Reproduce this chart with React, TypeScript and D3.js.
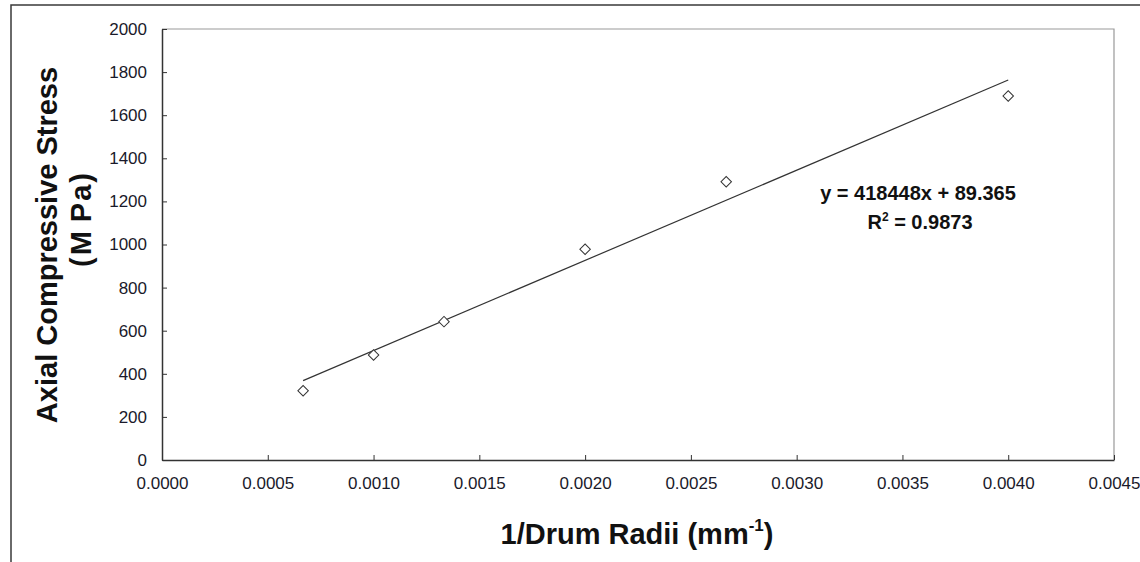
import React, { useRef, useEffect } from 'react';
import * as d3 from 'd3';

// data
const radiiInv = [0.000667, 0.001, 0.001333, 0.002, 0.002667, 0.004];
const stress = [321, 487, 642, 978, 1291, 1689];
const xTicks = [0, 0.0005, 0.001, 0.0015, 0.002, 0.0025, 0.003, 0.0035, 0.004, 0.0045];
const yTicks = [0, 200, 400, 600, 800, 1000, 1200, 1400, 1600, 1800, 2000];
const fitSlope = 418448;
const fitIntercept = 89.365;

export default function App() {
  const svgRef = useRef<SVGSVGElement | null>(null);

  useEffect(() => {
    const W = 1140;
    const H = 562;
    const margin = { top: 29, right: 26, bottom: 102, left: 162 };
    const width = W - margin.left - margin.right;
    const height = H - margin.top - margin.bottom;
    const font = 'Arial, "Liberation Sans", sans-serif';

    const root = d3.select(svgRef.current);
    root.selectAll('*').remove();
    root.attr('width', W).attr('height', H);

    root.append('rect').attr('width', W).attr('height', H).attr('fill', '#fff');

    // outer chart frame (only top and left edges visible)
    root.append('path')
      .attr('d', `M11,${H} L11,5 L${W},5`)
      .attr('fill', 'none')
      .attr('stroke', '#3a3a3a')
      .attr('stroke-width', 1.5);

    const svg = root.append('g').attr('transform', `translate(${margin.left},${margin.top})`);

    const x = d3.scaleLinear().domain([0, 0.0045]).range([0, width]);
    const y = d3.scaleLinear().domain([0, 2000]).range([height, 0]);

    // plot box top/right
    svg.append('path')
      .attr('d', `M0,0 H${width} V${height}`)
      .attr('fill', 'none')
      .attr('stroke', '#999')
      .attr('stroke-width', 1.2);

    // X axis
    const xAxis = svg.append('g')
      .attr('transform', `translate(0,${height})`)
      .call(d3.axisBottom(x).tickValues(xTicks).tickSizeInner(-5).tickSizeOuter(0).tickPadding(17).tickFormat(d3.format('.4f')));
    xAxis.select('.domain').attr('stroke', '#333').attr('stroke-width', 1.5);
    xAxis.selectAll('line').attr('stroke', '#333');
    xAxis.selectAll('text')
      .style('font-family', font)
      .style('font-size', '17px')
      .style('fill', '#1a1a2a');

    // Y axis
    const yAxis = svg.append('g')
      .call(d3.axisLeft(y).tickValues(yTicks).tickSizeInner(-5).tickSizeOuter(0).tickPadding(15).tickFormat(d3.format('d')));
    yAxis.select('.domain').attr('stroke', '#333').attr('stroke-width', 1.5);
    yAxis.selectAll('line').attr('stroke', '#333');
    yAxis.selectAll('text')
      .style('font-family', font)
      .style('font-size', '17px')
      .style('fill', '#1a1a2a');

    // trend line
    const xMin = d3.min(radiiInv) as number;
    const xMax = d3.max(radiiInv) as number;
    svg.append('line')
      .attr('x1', x(xMin)).attr('y1', y(fitSlope * xMin + fitIntercept))
      .attr('x2', x(xMax)).attr('y2', y(fitSlope * xMax + fitIntercept))
      .attr('stroke', '#333')
      .attr('stroke-width', 1.2);

    // diamond markers
    const diamond = d3.symbol().type(d3.symbolSquare).size(55);
    svg.selectAll('path.pt')
      .data(radiiInv.map((r, i) => ({ r, s: stress[i] })))
      .enter().append('path')
      .attr('class', 'pt')
      .attr('d', diamond)
      .attr('transform', d => `translate(${x(d.r)},${y(d.s)}) rotate(45)`)
      .attr('fill', '#fff')
      .attr('stroke', '#333')
      .attr('stroke-width', 1);

    // equation
    const eq = svg.append('text')
      .attr('x', 918 - margin.left)
      .attr('y', 200 - margin.top)
      .attr('text-anchor', 'middle')
      .style('font-family', font)
      .style('font-size', '20px')
      .style('font-weight', 'bold')
      .style('fill', '#111');
    eq.text(`y = ${fitSlope}x + ${fitIntercept}`);

    const r2 = svg.append('text')
      .attr('x', 920 - margin.left)
      .attr('y', 229 - margin.top)
      .attr('text-anchor', 'middle')
      .style('font-family', font)
      .style('font-size', '20px')
      .style('font-weight', 'bold')
      .style('fill', '#111');
    r2.append('tspan').text('R');
    r2.append('tspan').attr('dy', -8).style('font-size', '12px').text('2');
    r2.append('tspan').attr('dy', 8).text(' = 0.9873');

    // axis titles
    const xt = root.append('text')
      .attr('x', 637)
      .attr('y', 544)
      .attr('text-anchor', 'middle')
      .style('font-family', font)
      .style('font-size', '29px')
      .style('font-weight', 'bold')
      .style('fill', '#111');
    xt.append('tspan').text('1/Drum Radii (mm');
    xt.append('tspan').attr('dy', -13).style('font-size', '17px').text('-1');
    xt.append('tspan').attr('dy', 13).text(')');

    root.append('text')
      .attr('transform', 'translate(57,245) rotate(-90)')
      .attr('text-anchor', 'middle')
      .style('font-family', font)
      .style('font-size', '29px')
      .style('font-weight', 'bold')
      .style('fill', '#111')
      .text('Axial Compressive Stress');

    const mpa = root.append('text')
      .attr('transform', 'translate(91,219) rotate(-90)')
      .attr('text-anchor', 'middle')
      .style('font-family', font)
      .style('font-size', '29px')
      .style('font-weight', 'bold')
      .style('letter-spacing', '2px')
      .style('fill', '#111');
    mpa.append('tspan').text('(M');
    mpa.append('tspan').attr('dx', 7).text('Pa)');
  }, []);

  return (
    <svg ref={svgRef} style={{ position: 'absolute', top: 0, left: 0, display: 'block' }} />
  );
}
